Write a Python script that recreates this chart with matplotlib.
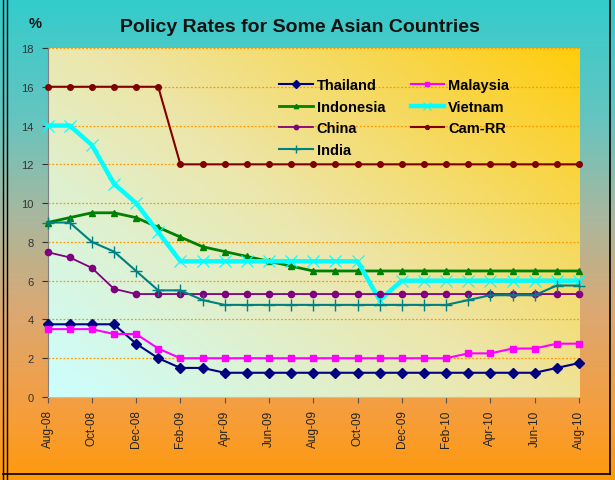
import numpy as np
import matplotlib
matplotlib.use("Agg")
import matplotlib.pyplot as plt
from matplotlib.lines import Line2D
from matplotlib.colors import LinearSegmentedColormap

plt.rcParams['font.family'] = ['Liberation Sans', 'DejaVu Sans']

months = ["Aug-08", "Sep-08", "Oct-08", "Nov-08", "Dec-08", "Jan-09", "Feb-09", "Mar-09",
          "Apr-09", "May-09", "Jun-09", "Jul-09", "Aug-09", "Sep-09", "Oct-09", "Nov-09",
          "Dec-09", "Jan-10", "Feb-10", "Mar-10", "Apr-10", "May-10", "Jun-10", "Jul-10", "Aug-10"]

thailand = [3.75, 3.75, 3.75, 3.75, 2.75, 2.0, 1.5, 1.5, 1.25, 1.25, 1.25, 1.25, 1.25, 1.25,
            1.25, 1.25, 1.25, 1.25, 1.25, 1.25, 1.25, 1.25, 1.25, 1.5, 1.75]
malaysia = [3.5, 3.5, 3.5, 3.25, 3.25, 2.5, 2.0, 2.0, 2.0, 2.0, 2.0, 2.0, 2.0, 2.0,
            2.0, 2.0, 2.0, 2.0, 2.0, 2.25, 2.25, 2.5, 2.5, 2.75, 2.75]
indonesia = [9.0, 9.25, 9.5, 9.5, 9.25, 8.75, 8.25, 7.75, 7.5, 7.25, 7.0, 6.75, 6.5, 6.5,
             6.5, 6.5, 6.5, 6.5, 6.5, 6.5, 6.5, 6.5, 6.5, 6.5, 6.5]
vietnam = [14, 14, 13, 11, 10, 8.5, 7, 7, 7, 7, 7, 7, 7, 7,
           7, 5, 6, 6, 6, 6, 6, 6, 6, 6, 6]
china = [7.47, 7.2, 6.66, 5.58, 5.31, 5.31, 5.31, 5.31, 5.31, 5.31, 5.31, 5.31, 5.31, 5.31,
         5.31, 5.31, 5.31, 5.31, 5.31, 5.31, 5.31, 5.31, 5.31, 5.31, 5.31]
cam_rr = [16, 16, 16, 16, 16, 16, 12, 12, 12, 12, 12, 12, 12, 12,
          12, 12, 12, 12, 12, 12, 12, 12, 12, 12, 12]
india = [9.0, 9.0, 8.0, 7.5, 6.5, 5.5, 5.5, 5.0, 4.75, 4.75, 4.75, 4.75, 4.75, 4.75,
         4.75, 4.75, 4.75, 4.75, 4.75, 5.0, 5.25, 5.25, 5.25, 5.75, 5.75]

W, H = 615, 481
fig = plt.figure(figsize=(W / 100, H / 100), dpi=100)

# figure background gradient (vertical teal -> orange)
bg = fig.add_axes([0, 0, 1, 1], zorder=-10)
bg.set_axis_off()
bg_cmap = LinearSegmentedColormap.from_list(
    "bg", [(0.0, (0.20, 0.80, 0.80)), (0.25, (0.40, 0.77, 0.75)), (0.45, (0.66, 0.72, 0.62)),
           (0.65, (0.86, 0.66, 0.45)), (0.85, (0.96, 0.62, 0.25)), (1.0, (1.0, 0.60, 0.05))])
grad = np.linspace(0, 1, 256).reshape(-1, 1)
bg.imshow(grad, aspect='auto', cmap=bg_cmap, extent=[0, 1, 0, 1], origin='upper')
bg.set_xlim(0, 1)
bg.set_ylim(0, 1)

# plot area
L, R, T, B = 47.5, 579, 49, 398
ax = fig.add_axes([L / W, 1 - B / H, (R - L) / W, (B - T) / H])
x = np.arange(len(months))
ax.set_xlim(0, len(months) - 1)
ax.set_ylim(0, 18)

pa_cmap = LinearSegmentedColormap.from_list(
    "pa", [(0.0, (0.80, 1.0, 1.0)), (0.5, (0.93, 0.90, 0.66)), (1.0, (1.0, 0.80, 0.05))])
gx, gy = np.meshgrid(np.linspace(0, 1, 200), np.linspace(1, 0, 200))
ax.imshow((gx * 0.55 + gy * 0.45), aspect='auto', cmap=pa_cmap,
          extent=[0, len(months) - 1, 0, 18], origin='upper', zorder=0)

for yv in range(2, 19, 2):
    ax.axhline(yv, color='#FF9900', lw=0.9, ls=(0, (1.5, 1.5)), zorder=1)

series = [
    ("Thailand", thailand, dict(color='#000080', marker='D', ms=5.5, lw=1.5)),
    ("Malaysia", malaysia, dict(color='#FF00FF', marker='s', ms=5, lw=1.5)),
    ("Indonesia", indonesia, dict(color='#008000', marker='^', ms=4.5, lw=2)),
    ("Vietnam", vietnam, dict(color='#00FFFF', marker='x', ms=8, lw=3.2, mew=0.8)),
    ("China", china, dict(color='#800080', marker='o', ms=4.5, lw=1.3)),
    ("Cam-RR", cam_rr, dict(color='#800000', marker='o', ms=4, lw=1.5)),
    ("India", india, dict(color='#008080', marker='+', ms=8, lw=1.5, mew=1)),
]
handles = {}
for name, vals, kw in series:
    h, = ax.plot(x, vals, label=name, zorder=3, clip_on=False, **kw)
    handles[name] = h

order = ["Thailand", "Indonesia", "China", "India", "Malaysia", "Vietnam", "Cam-RR"]
leg = ax.legend([handles[n] for n in order], order, ncol=2, frameon=False,
                loc='upper left', bbox_to_anchor=(279 / W, 1 - 79 / H),
                bbox_transform=fig.transFigure, prop=dict(size=10.5, weight='bold'),
                handlelength=2.3, handletextpad=0.28, columnspacing=1.75,
                labelspacing=0.53, borderpad=0, borderaxespad=0, markerscale=0.7)

ax.set_yticks(range(0, 19, 2))
ax.set_xticks(x[::2])
ax.set_xticklabels(months[::2], rotation=90, fontsize=8.5, color='#222222')
ax.tick_params(axis='y', labelsize=8, colors='#333333', length=4, width=0.8, pad=6)
ax.tick_params(axis='x', length=4, width=0.8, pad=5, color='#555555')
for s in ['top', 'right']:
    ax.spines[s].set_visible(False)
ax.spines['left'].set_color('#808080')
ax.spines['bottom'].set_color('#C8C0A8')

fig.text(300 / W, 1 - 27 / H, "Policy Rates for Some Asian Countries", ha='center',
         va='center', fontsize=14, fontweight='bold', color='#111111')
fig.text(35 / W, 1 - 24 / H, "%", ha='center', va='center', fontsize=10.5,
         fontweight='bold', color='#111111')

# outer frame
for xx in (2.5 / W, 6.5 / W):
    fig.add_artist(Line2D([xx, xx], [0, 1], transform=fig.transFigure, color='black', lw=1))
fig.add_artist(Line2D([610 / W, 610 / W], [1 - 475 / H, 1], transform=fig.transFigure,
                      color='black', lw=1.2))
fig.add_artist(Line2D([2.5 / W, 610 / W], [1 - 475 / H, 1 - 475 / H],
                      transform=fig.transFigure, color='black', lw=1.2))

fig.savefig("out.png", dpi=100)
